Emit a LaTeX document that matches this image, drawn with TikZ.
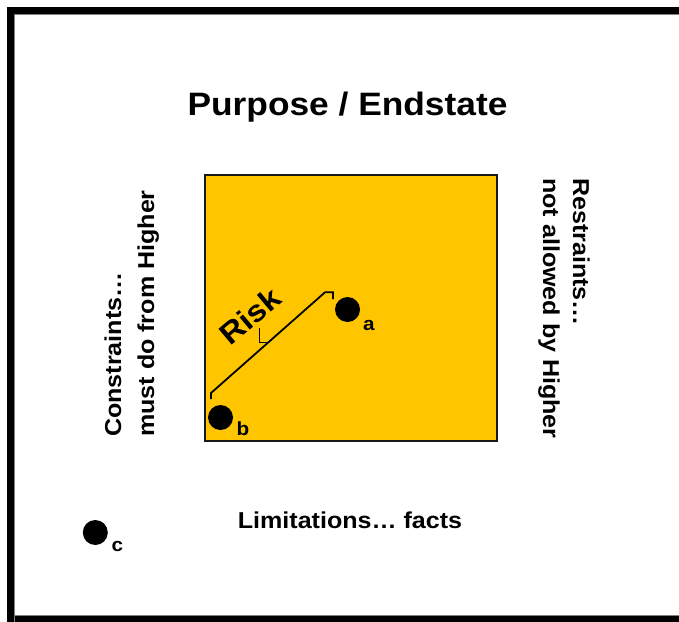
\documentclass[tikz,border=0pt]{standalone}
\usepackage{fontspec}
\setmainfont{Liberation Sans}[FakeStretch=1.09]
\definecolor{boxyellow}{RGB}{255,198,0}
\begin{document}
\begin{tikzpicture}[x=1pt,y=-1pt,
  sidetxt/.style={font=\bfseries\fontsize{23}{27}\selectfont, inner sep=0pt},
  dotnode/.style={circle, fill=black, minimum size=25pt, inner sep=0pt},
  dotlabel/.style={font=\bfseries\fontsize{19}{22}\selectfont, inner sep=0pt, anchor=base},
  bracketline/.style={line width=1.8pt, line join=miter}]
\useasboundingbox (0,0) rectangle (679,621);
\begin{scope}
  \clip (0,0) rectangle (679,621);
  \draw[line width=7pt] (10.5,10.5) rectangle (700,619.2);
  \draw[gray, line width=0.9pt] (14.4,700) -- (14.4,615.2) -- (700,615.2);
  \draw[gray, line width=0.9pt] (14.4,615.2) -- (14.4,14.4) -- (700,14.4);
\end{scope}
% title
\node[font=\bfseries\fontsize{32.4}{38}\selectfont, inner sep=0pt, anchor=base] (title) at (347.5,115) {Purpose / Endstate};
% yellow box
\node[draw=black!90, line width=2pt, fill=boxyellow, minimum width=292.5pt, minimum height=266.5pt, inner sep=0pt, anchor=north west] (box) at (203.5,173.5) {};
% side texts
\node[sidetxt, rotate=90, anchor=base west] (con1) at (121,437) {Constraints…};
\node[sidetxt, rotate=90, anchor=base west] (con2) at (154,437) {must do from Higher};
\node[sidetxt, rotate=-90, anchor=base west] (res1) at (573,178) {Restraints…};
\node[sidetxt, rotate=-90, anchor=base west] (res2) at (543,178) {not allowed by Higher};
\node[sidetxt, anchor=base] (lim) at (350,528) {Limitations… facts};
% dots
\node[dotnode] (a) at (347.5,309.5) {};
\node[dotlabel] (la) at (369,330) {a};
\node[dotnode] (b) at (220.5,417.5) {};
\node[dotlabel] (lb) at (243,435) {b};
\node[dotnode] (c) at (95.3,532.5) {};
\node[dotlabel] (lc) at (117.5,551.7) {c};
% risk bracket
\coordinate (r1) at (211,399);
\coordinate (r2) at (211,393);
\coordinate (r3) at (325,292.3);
\coordinate (r4) at (333,292.3);
\coordinate (r5) at (333,299);
\coordinate (m1) at (269,342.5);
\coordinate (m2) at (259.5,342.5);
\coordinate (m3) at (259.5,328);
\draw[bracketline] (r1) -- (r2) -- (r3) -- (r4) -- (r5);
\draw[bracketline] (m1) -- (m2) -- (m3);
\node[font=\bfseries\fontsize{30}{36}\selectfont, inner sep=0pt, rotate=40] (risk) at (250,316) {Risk};
\end{tikzpicture}
\end{document}
